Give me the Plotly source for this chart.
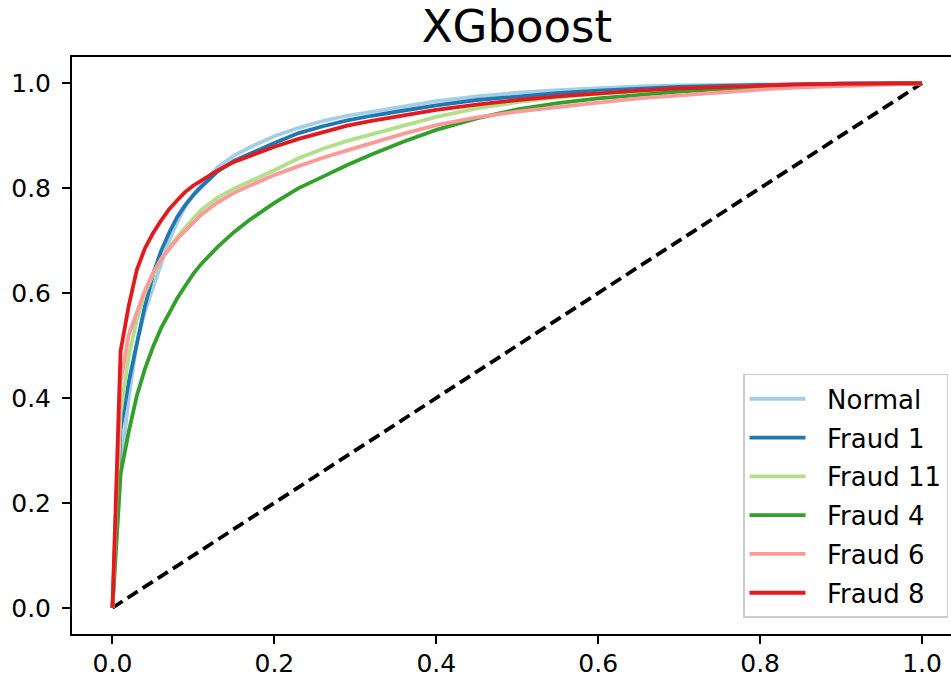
import plotly.graph_objects as go

# False-positive-rate grid shared by all ROC curves
fpr = [0.0, 0.01, 0.02, 0.03, 0.04, 0.05, 0.06, 0.07, 0.08, 0.09, 0.10, 0.11,
       0.13, 0.15, 0.17, 0.20, 0.23, 0.26, 0.29, 0.32, 0.36, 0.40, 0.45, 0.50,
       0.55, 0.60, 0.65, 0.70, 0.75, 0.80, 0.85, 0.90, 0.95, 1.0]

# Mean true-positive rate of each class at those FPR values
tpr_normal = [0.0, 0.26, 0.40, 0.505, 0.565, 0.61, 0.66, 0.70, 0.735, 0.765, 0.788, 0.808,
              0.840, 0.862, 0.878, 0.899, 0.915, 0.928, 0.938, 0.946, 0.956, 0.966, 0.975, 0.982,
              0.987, 0.991, 0.994, 0.996, 0.997, 0.998, 0.999, 0.9995, 1.0, 1.0]
tpr_fraud1 = [0.0, 0.34, 0.43, 0.50, 0.575, 0.635, 0.68, 0.715, 0.745, 0.768, 0.787, 0.803,
              0.832, 0.852, 0.866, 0.886, 0.905, 0.918, 0.929, 0.938, 0.948, 0.958, 0.968, 0.975,
              0.981, 0.986, 0.990, 0.993, 0.995, 0.997, 0.998, 0.999, 1.0, 1.0]
tpr_fraud11 = [0.0, 0.37, 0.48, 0.548, 0.60, 0.635, 0.665, 0.687, 0.707, 0.725, 0.743, 0.759,
               0.782, 0.799, 0.813, 0.834, 0.857, 0.875, 0.890, 0.903, 0.919, 0.936, 0.952, 0.964,
               0.973, 0.980, 0.985, 0.989, 0.992, 0.995, 0.997, 0.998, 0.999, 1.0]
tpr_fraud4 = [0.0, 0.255, 0.335, 0.404, 0.455, 0.497, 0.533, 0.562, 0.590, 0.614, 0.637, 0.656,
              0.688, 0.716, 0.740, 0.772, 0.800, 0.822, 0.844, 0.864, 0.889, 0.911, 0.933, 0.950,
              0.962, 0.971, 0.978, 0.984, 0.989, 0.993, 0.996, 0.998, 0.999, 1.0]
tpr_fraud6 = [0.0, 0.43, 0.52, 0.565, 0.605, 0.638, 0.664, 0.684, 0.703, 0.719, 0.735, 0.750,
              0.773, 0.791, 0.805, 0.825, 0.842, 0.858, 0.872, 0.886, 0.904, 0.920, 0.935, 0.946,
              0.955, 0.963, 0.971, 0.977, 0.983, 0.988, 0.992, 0.995, 0.998, 1.0]
tpr_fraud8 = [0.0, 0.489, 0.575, 0.644, 0.685, 0.714, 0.738, 0.760, 0.777, 0.793, 0.805, 0.815,
              0.834, 0.850, 0.862, 0.879, 0.894, 0.907, 0.919, 0.928, 0.939, 0.949, 0.959, 0.968,
              0.975, 0.981, 0.986, 0.990, 0.993, 0.996, 0.998, 0.999, 1.0, 1.0]

labels = ["Normal", "Fraud 1", "Fraud 11", "Fraud 4", "Fraud 6", "Fraud 8"]
series = [tpr_normal, tpr_fraud1, tpr_fraud11, tpr_fraud4, tpr_fraud6, tpr_fraud8]
colors = ["#a6cee3", "#1f78b4", "#b2df8a", "#33a02c", "#fb9a99", "#e31a1c"]

chance = [0.0, 1.0]
ticks = [0.0, 0.2, 0.4, 0.6, 0.8, 1.0]

FONT = "DejaVu Sans"
NBSP = "\u00a0"

fig = go.Figure()

# chance diagonal
fig.add_trace(go.Scatter(x=chance, y=chance, mode="lines", showlegend=False,
                         line=dict(color="black", width=3.8, dash="12px,6px")))

for i, (name, tpr, col) in enumerate(zip(labels, series, colors)):
    fig.add_trace(go.Scatter(x=fpr, y=tpr, mode="lines", name=NBSP * 2 + name,
                             legendgroup=f"g{i}",
                             line=dict(color=col, width=3.8)))

axis_common = dict(
    showgrid=False, zeroline=False, showline=True, linecolor="black", linewidth=2,
    ticks="outside", ticklen=8, tickwidth=2, tickcolor="black",
    tickvals=ticks, tickformat=".1f", automargin=False,
    tickfont=dict(family=FONT, size=25, color="black"),
)

fig.update_layout(
    width=951, height=682,
    margin=dict(l=72, r=0, t=57, b=48),
    paper_bgcolor="white", plot_bgcolor="white",
    font=dict(family=FONT, color="black"),
    title=dict(text="XGboost", font=dict(family=FONT, size=45, color="black"),
               xref="container", x=517 / 951, xanchor="center",
               yref="container", y=1 - 26 / 682, yanchor="middle"),
    xaxis=dict(range=[-0.05, 1.0358], mirror=True, ticklabelstandoff=-2, **axis_common),
    yaxis=dict(range=[-0.05, 1.05], mirror=False, ticklabelstandoff=6, **axis_common),
    legend=dict(x=0.9966, xanchor="right", y=0.028, yanchor="bottom",
                bgcolor="white", bordercolor="#cccccc", borderwidth=1.5,
                font=dict(family=FONT, size=26, color="black"),
                traceorder="grouped", tracegroupgap=2, itemwidth=56),
)

fig.write_html("out.html")
